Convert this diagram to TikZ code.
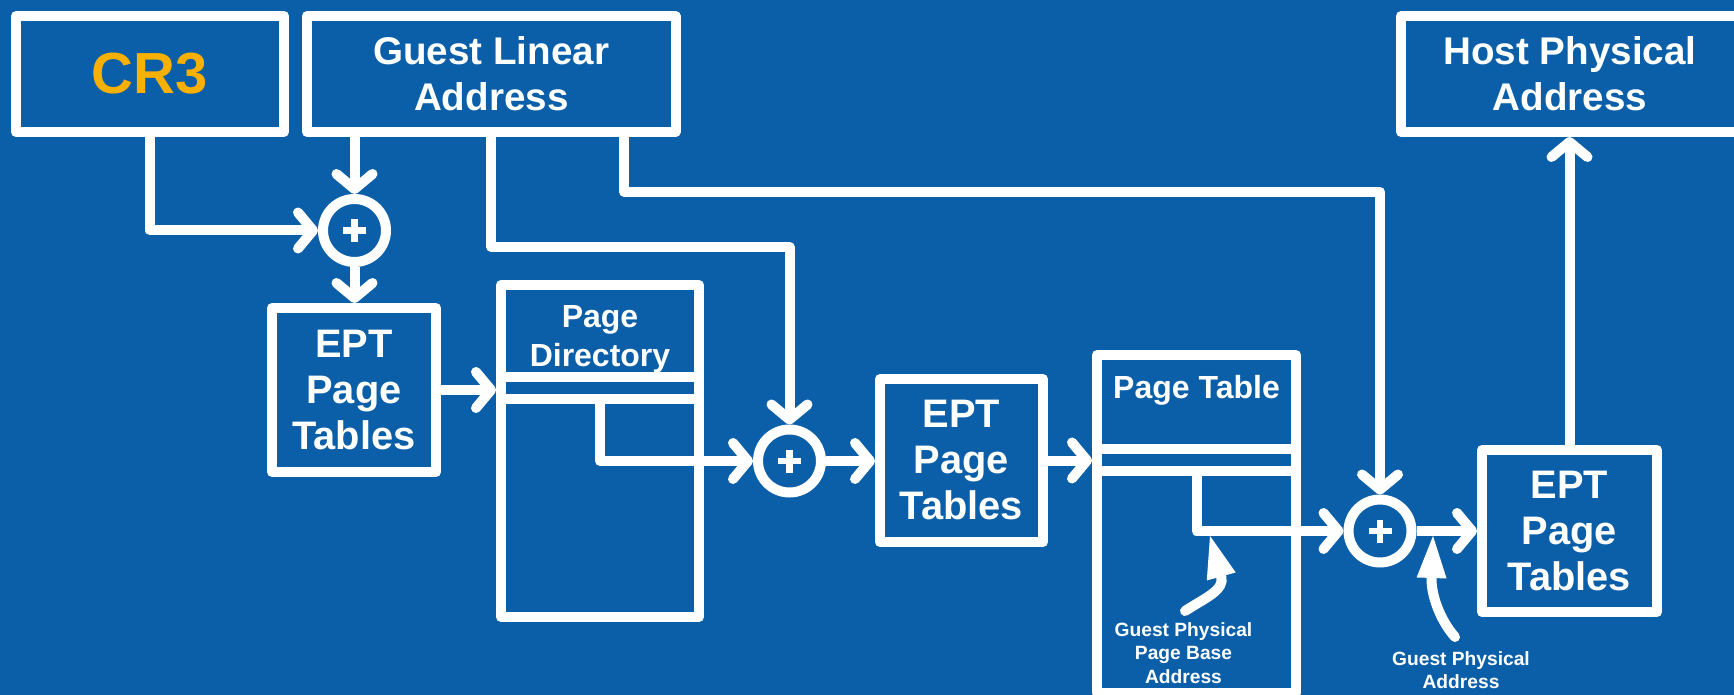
\documentclass[tikz,border=0pt]{standalone}
\usepackage{fontspec}
\setmainfont{Liberation Sans}
\usetikzlibrary{arrows.meta,calc}
\definecolor{bgblue}{RGB}{11,95,168}
\definecolor{crgold}{RGB}{250,176,0}
\newcommand\fntCR{\fontsize{29}{34}\selectfont\bfseries}
\newcommand\fntBig{\fontsize{19.3}{23}\selectfont\bfseries}
\newcommand\fntEPT{\fontsize{19.9}{23}\selectfont\bfseries}
\newcommand\fntMid{\fontsize{16}{19.5}\selectfont\bfseries}
\newcommand\fntSmall{\fontsize{9.6}{11.75}\selectfont\bfseries}
\begin{document}
\begin{tikzpicture}[x=0.5pt,y=-0.5pt,
  box/.style={draw=white, line width=5pt, line join=round, rectangle, inner sep=0pt,
    outer sep=2.5pt, text=white, align=center, font=\fntBig},
  eptbox/.style={box, font=\fntEPT},
  tablebox/.style={draw=white, line width=5pt, line join=round, rectangle, inner sep=0pt, outer sep=2.5pt},
  adder/.style={draw=white, line width=5pt, circle, minimum size=31.5pt, inner sep=0pt, outer sep=2.5pt},
  wire/.style={draw=white, line width=5pt, line join=round},
  conn/.style={wire, -{Straight Barb[length=7.5pt,width=18pt,line cap=round,line join=round]}},
  plusbar/.style={draw=white, line width=3.2pt},
  pointer/.style={draw=white, line width=5pt, line cap=round, -{Triangle[length=21pt,width=15pt,line width=0pt]}},
  lbl/.style={text=white, align=center, inner sep=0pt, anchor=north},
]
% canvas
\useasboundingbox (0,0) rectangle (1734,695);
\clip (0,0) rectangle (1734,695);
\fill[bgblue] (0,0) rectangle (1734,695);

% top row
\node[box, font=\fntCR, text=crgold, minimum width=134pt, minimum height=58pt] (cr3) at (150,74) {CR3};
\node[box, minimum width=184.25pt, minimum height=58pt] (gla) at (491.25,74) {Guest Linear\\Address};
\node[box, minimum width=169pt, minimum height=58pt] (hpa) at (1570,74) {Host Physical\\Address};

% adders
\node[adder] (a1) at (354.5,230.5) {};
\node[adder] (a2) at (789.5,461) {};
\node[adder] (a3) at (1380,531) {};
\foreach \n in {a1,a2,a3}{
  \draw[plusbar] ([xshift=-5.75pt]\n.center) -- ([xshift=5.75pt]\n.center)
                 ([yshift=-5.75pt]\n.center) -- ([yshift=5.75pt]\n.center);
}

% EPT page table walkers
\node[eptbox, minimum width=82pt, minimum height=82pt] (ept1) at (354,390) {EPT\\Page\\Tables};
\node[eptbox, minimum width=81.5pt, minimum height=81.5pt] (ept2) at (961.5,460.5) {EPT\\Page\\Tables};
\node[eptbox, minimum width=87.5pt, minimum height=81pt] (ept3) at (1569.5,531) {EPT\\Page\\Tables};

% guest paging structures
\node[tablebox, minimum width=99pt, minimum height=166pt] (pd) at (600,451) {};
\node[lbl, font=\fntMid] (pdt) at (600,305) {Page\\Directory};
\coordinate (pdr1) at ($(pd.center)+(0,-74)$);
\coordinate (pdr2) at ($(pd.center)+(0,-52)$);
\draw[wire] (pdr1 -| pd.west) -- (pdr1 -| pd.east);
\draw[wire] (pdr2 -| pd.west) -- (pdr2 -| pd.east);

\node[tablebox, minimum width=99.5pt, minimum height=169pt] (pt) at (1196.5,524) {};
\node[lbl, font=\fntMid] (ptt) at (1196.5,375) {Page Table};
\coordinate (ptr1) at ($(pt.center)+(0,-75)$);
\coordinate (ptr2) at ($(pt.center)+(0,-53)$);
\draw[wire] (ptr1 -| pt.west) -- (ptr1 -| pt.east);
\draw[wire] (ptr2 -| pt.west) -- (ptr2 -| pt.east);

% connectors
\coordinate (k1) at (789.5,247);
\coordinate (g3) at ($(gla.south)+(133,0)$);
\coordinate (k2) at (1380,192);
\draw[conn] (cr3.south) |- (a1.west);
\draw[conn] (a1 |- gla.south) -- (a1.north);
\draw[conn] (a1.south) -- (a1.south |- ept1.north);
\draw[conn] (gla.south) |- (k1) -- (a2.north);
\draw[conn] (g3) |- (k2) -- (a3.north);
\draw[conn] (ept1.east) -- (ept1.east -| pd.west);
\draw[conn] (pdr2) |- (a2.west);
\draw[conn] (a2.east) -- (a2.east -| ept2.west);
\draw[conn] (ept2.east) -- (ept2.east -| pt.west);
\draw[conn] (ptr2) |- (a3.west);
\draw[conn] (a3.east) -- (a3.east -| ept3.west);
\draw[conn] (ept3.north) -- (ept3.north |- hpa.south);

% annotations
\node[lbl, font=\fntSmall] (gppb) at (1183.5,622) {Guest Physical\\Page Base\\Address};
\node[lbl, font=\fntSmall] (gpa) at (1461,651) {Guest Physical\\Address};
\coordinate (p1tail) at ($(gppb.north)+(1.5,-11)$);
\coordinate (p1tip) at (1210,536);
\coordinate (p2tail) at ($(gpa.north)+(-6,-14)$);
\coordinate (p2tip) at (1433,536);
\draw[pointer] (p1tail) .. controls (1205,598) and (1225,590) .. (p1tip);
\draw[pointer] (p2tail) .. controls (1440,620) and (1431,595) .. (p2tip);
\end{tikzpicture}
\end{document}
